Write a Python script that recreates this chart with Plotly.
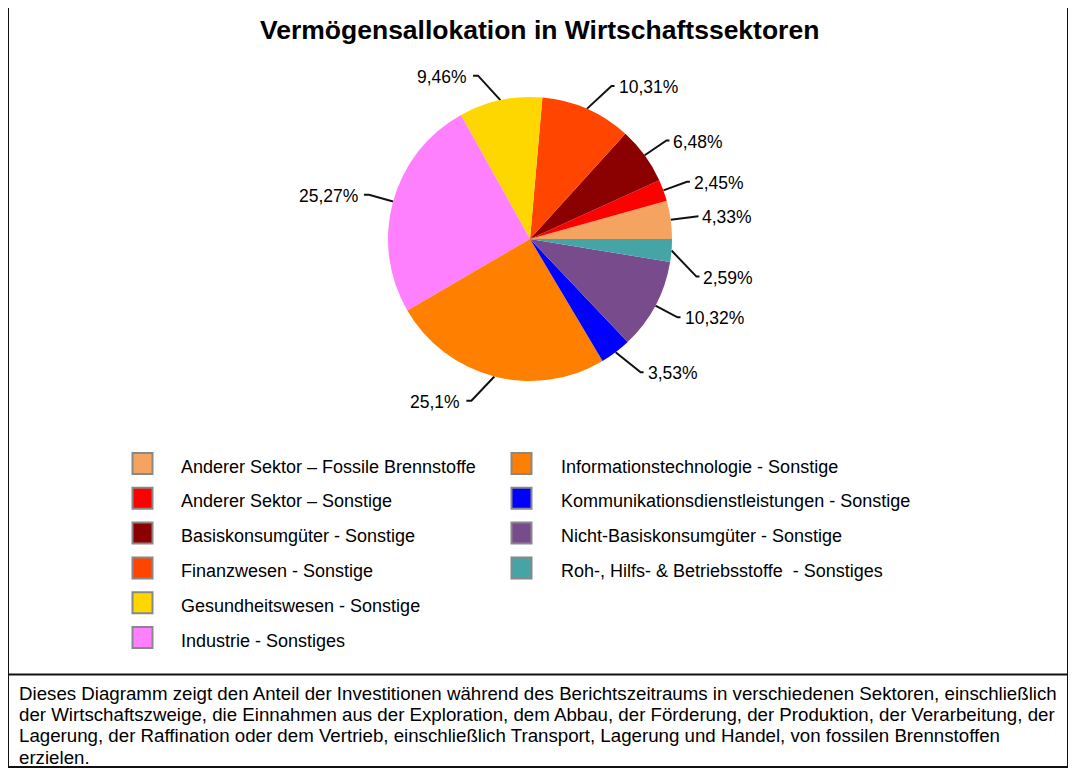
import math
import plotly.graph_objects as go

# ---------------- data ----------------
sectors = [
    "Anderer Sektor – Fossile Brennstoffe",
    "Anderer Sektor – Sonstige",
    "Basiskonsumgüter - Sonstige",
    "Finanzwesen - Sonstige",
    "Gesundheitswesen - Sonstige",
    "Industrie - Sonstiges",
    "Informationstechnologie - Sonstige",
    "Kommunikationsdienstleistungen - Sonstige",
    "Nicht-Basiskonsumgüter - Sonstige",
    "Roh-, Hilfs- & Betriebsstoffe \u00a0- Sonstiges",
]
shares = [4.33, 2.45, 6.48, 10.31, 9.46, 25.27, 25.1, 3.53, 10.32, 2.59]
colors = ["#F4A460", "#FF0000", "#8B0000", "#FF4500", "#FFD700",
          "#FF80FF", "#FF8000", "#0000FF", "#784B8C", "#44A4A6"]

title = "Vermögensallokation in Wirtschaftssektoren"
caption_lines = [
    "Dieses Diagramm zeigt den Anteil der Investitionen während des Berichtszeitraums in verschiedenen Sektoren, einschließlich",
    "der Wirtschaftszweige, die Einnahmen aus der Exploration, dem Abbau, der Förderung, der Produktion, der Verarbeitung, der",
    "Lagerung, der Raffination oder dem Vertrieb, einschließlich Transport, Lagerung und Handel, von fossilen Brennstoffen",
    "erzielen.",
]

# ---------------- layout constants ----------------
VW, VH = 1076, 770          # browser window
OFF = 8                     # page body margin
W, H = VW - OFF, VH - OFF   # figure size
FONT = "Liberation Sans, Arial, Helvetica, sans-serif"
CX, CY, R = 530, 239, 142   # pie centre / radius in window pixels
R_LABEL = 167
label_nudge_y = {9: 24}

fig = go.Figure()

total = sum(shares)
fig.add_trace(go.Pie(
    values=shares, labels=sectors, sort=False,
    direction="counterclockwise", rotation=90 - 360 * shares[0] / total,
    marker=dict(colors=colors, line=dict(width=0)),
    textinfo="none", showlegend=False, hoverinfo="label+percent",
    domain=dict(x=[(CX - R - OFF) / W, (CX + R - OFF) / W],
                y=[1 - (CY + R - OFF) / H, 1 - (CY - R - OFF) / H]),
))

# leader lines & labels computed from the data
cum = 0.0
lx, ly = [], []
annotations = []
for i, v in enumerate(shares):
    mid = (cum + v / 2) / total * 2 * math.pi
    cum += v
    c, s = math.cos(mid), math.sin(mid)
    side = 1 if c >= 0 else -1
    x0, y0 = CX + R * c, CY - R * s
    shift = 40 * max(0.0, abs(s) - 0.55)
    x1 = CX + R_LABEL * c + side * shift
    y1 = CY - R_LABEL * s + label_nudge_y.get(i, 0)
    seg = 3 if side > 0 else 5
    x2 = x1 + side * seg
    lx += [x0, x1, x2, None]
    ly += [y0, y1, y1, None]
    txt = ("%g" % v).replace(".", ",") + "%"
    gap = 2 if side > 0 else 4
    annotations.append(dict(
        x=x2 + side * gap, y=y1 + 1, xref="x", yref="y", text=txt,
        showarrow=False, xanchor="left" if side > 0 else "right", yanchor="middle",
        font=dict(family=FONT, size=17.5, color="#000")))

fig.add_trace(go.Scatter(x=lx, y=ly, mode="lines", line=dict(color="#111", width=2),
                         hoverinfo="skip", showlegend=False))

# legend (two columns, column-major)
shapes = []
for i, (name, col) in enumerate(zip(sectors, colors)):
    c, r = i // 6, i % 6
    mx = 142.5 + c * 379
    my = 463.5 + r * 34.8
    shapes.append(dict(type="rect", xref="x", yref="y",
                       x0=mx - 10, x1=mx + 10, y0=my - 10.5, y1=my + 10.5,
                       fillcolor=col, line=dict(color="#888", width=2)))
    annotations.append(dict(x=178.5 + c * 380, y=my + 3, xref="x", yref="y", text=name,
                            showarrow=False, xanchor="left", yanchor="middle",
                            font=dict(family=FONT, size=18, color="#000")))

# frame & separator
shapes.append(dict(type="rect", xref="x", yref="y", x0=8, x1=1068, y0=5, y1=767,
                   line=dict(color="#111", width=2), fillcolor="rgba(0,0,0,0)"))
shapes.append(dict(type="line", xref="x", yref="y", x0=8, x1=1068, y0=674.5, y1=674.5,
                   line=dict(color="#111", width=2)))

annotations.append(dict(x=539, y=30, xref="x", yref="y", text="<b>%s</b>" % title,
                        showarrow=False, xanchor="center", yanchor="middle",
                        font=dict(family=FONT, size=26.5, color="#000")))
for k, line in enumerate(caption_lines):
    annotations.append(dict(x=17, y=693 + k * 21.4, xref="x", yref="y", text=line,
                            showarrow=False, xanchor="left", yanchor="middle", align="left",
                            font=dict(family=FONT, size=18.7, color="#000")))

fig.update_layout(
    width=W, height=H, margin=dict(l=0, r=0, t=0, b=0),
    paper_bgcolor="white", plot_bgcolor="rgba(0,0,0,0)",
    xaxis=dict(range=[OFF, VW], visible=False, fixedrange=True),
    yaxis=dict(range=[VH, OFF], visible=False, fixedrange=True),
    shapes=shapes, annotations=annotations,
)

fig.write_html("out.html")
